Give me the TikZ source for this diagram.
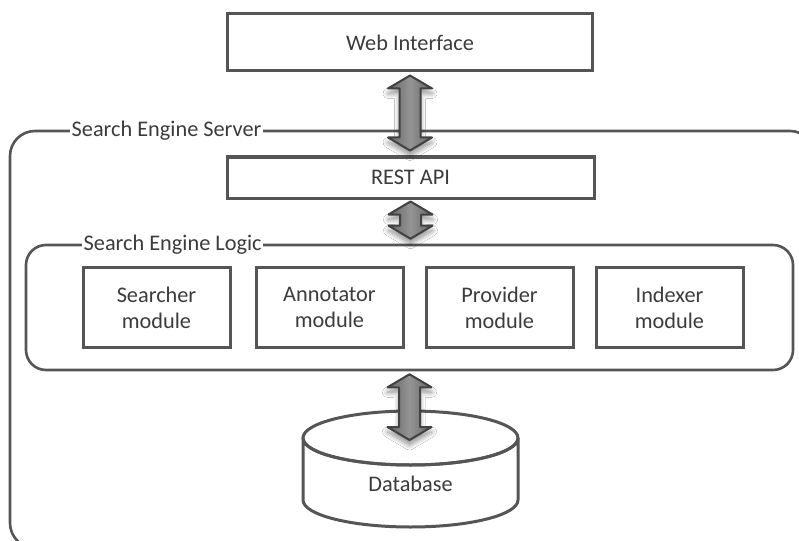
\documentclass[tikz,border=0pt]{standalone}
\usepackage{fontspec}
\setmainfont{Carlito}
\usetikzlibrary{calc,shadows.blur}
\definecolor{ln}{HTML}{555555}
\definecolor{tx}{HTML}{3C3C3C}
\definecolor{arrline}{HTML}{424242}
\tikzset{
  base/.style={font=\fontsize{22.3}{26}\selectfont, text=tx},
  box/.style={base, draw=ln, line width=3pt, fill=white, align=center, inner sep=0pt},
  grp/.style={draw=ln, line width=2.6pt, rounded corners=25pt, inner sep=0pt},
  lbl/.style={base, fill=white, inner sep=1.5pt, anchor=west},
  dbl/.style={draw=arrline, line width=2pt, line join=round,
    left color=black!60, right color=black!60, middle color=black!42,
    blur shadow={shadow xshift=0pt, shadow yshift=-5pt, shadow blur radius=5pt, shadow blur steps=10, shadow opacity=45}},
}
\newcommand{\dbarr}[4]{%
  \path[dbl] let \p3=($(#1)+(0,#3)$), \p4=($(#2)+(0,-#4)$) in
    (\x3,\y3) -- (\x3+22pt,\y3-13pt) -- (\x3+10.5pt,\y3-13pt) -- (\x3+10.5pt,\y4+13pt)
    -- (\x3+22pt,\y4+13pt) -- (\x3,\y4) -- (\x3-22pt,\y4+13pt) -- (\x3-10.5pt,\y4+13pt)
    -- (\x3-10.5pt,\y3-13pt) -- (\x3-22pt,\y3-13pt) -- cycle;}
\begin{document}
\begin{tikzpicture}[x=1pt,y=-1pt]
  \clip (0,0) rectangle (799,540);
  \fill[white] (0,0) rectangle (799,540);

  % outer server group
  \node[grp, minimum width=805, minimum height=417] (server) at (412.5,339.5) {};
  \node[lbl] (serverlbl) at (70,131) {Search Engine Server};

  % top boxes
  \node[box, minimum width=365, minimum height=57] (web) at (410,42.5) {Web Interface};
  \node[box, minimum width=367, minimum height=41] (rest) at (410.5,177.5) {REST API};

  % logic group
  \node[grp, rounded corners=20pt, minimum width=767, minimum height=125] (logic) at (409.5,307.5) {};
  \node[lbl] (logiclbl) at (82,245) {Search Engine Logic};

  % modules
  \node[box, minimum width=147, minimum height=80] (searcher)  at (156.5,307.5) {Searcher\\module};
  \node[box, minimum width=147, minimum height=80] (annotator) at (329.5,307.5) {Annotator\\module};
  \node[box, minimum width=147, minimum height=80] (provider)  at (499.5,307.5) {Provider\\module};
  \node[box, minimum width=147, minimum height=80] (indexer)   at (669.5,307.5) {Indexer\\module};

  % database cylinder
  \coordinate (dbtop) at (410.5,438);
  \draw[ln, line width=3pt, fill=white] (303,438) -- (303,500)
     arc[start angle=180, end angle=0, x radius=107.5, y radius=27] -- (518,438)
     arc[start angle=0, end angle=180, x radius=107.5, y radius=27] -- cycle;
  \draw[ln, line width=3pt] (dbtop) ellipse [x radius=107.5, y radius=27];
  \node[base] (db) at (410.5,484) {Database};

  % double arrows
  \dbarr{web.south}{rest.north}{3}{5}
  \dbarr{rest.south}{logic.north}{2}{5}
  \dbarr{logic.south}{dbtop}{3}{-2}
\end{tikzpicture}
\end{document}
